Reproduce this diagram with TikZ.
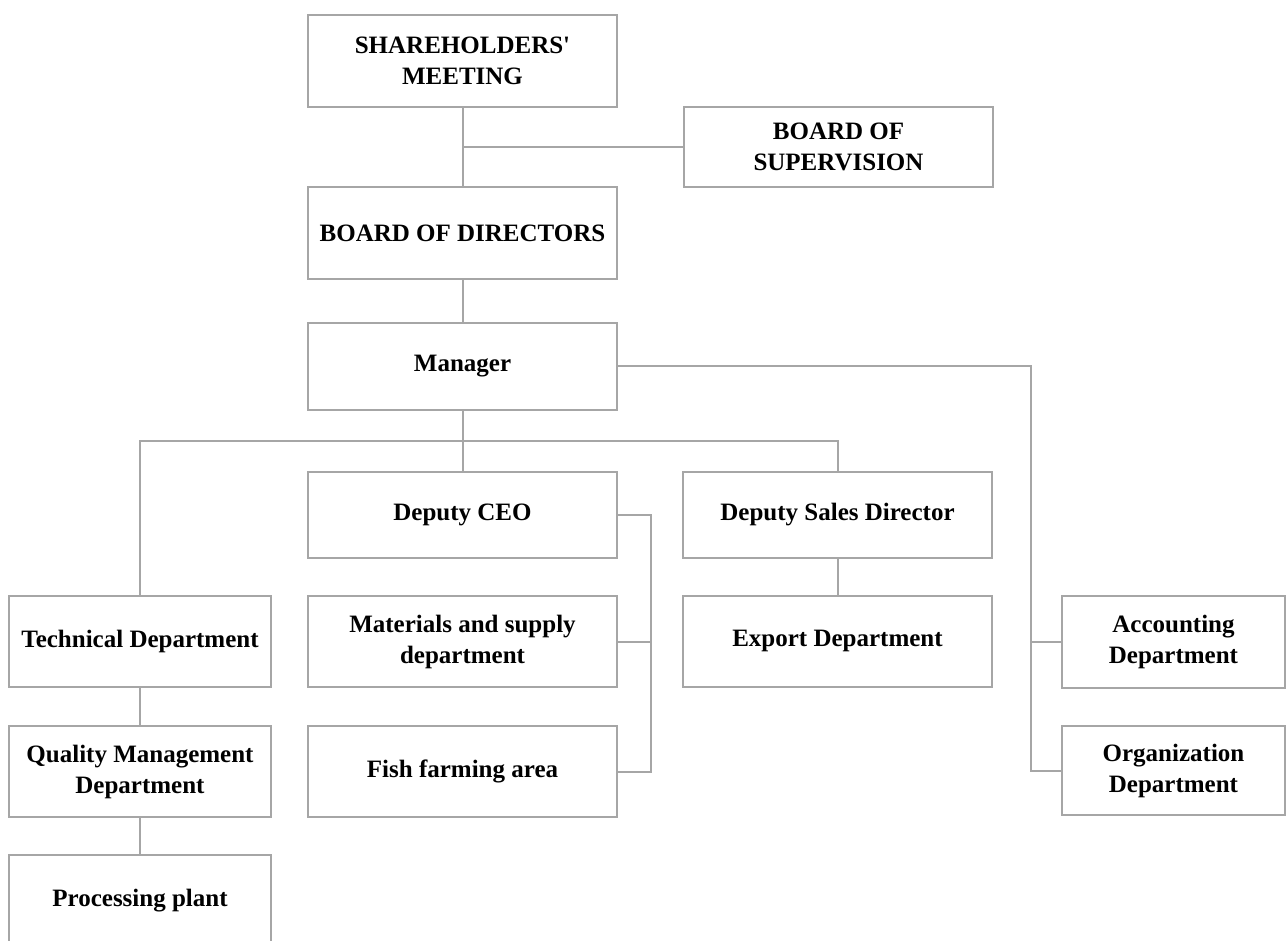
\documentclass[tikz,border=0pt]{standalone}
\usepackage{fontspec}
\setmainfont{Liberation Serif}
\definecolor{linegray}{HTML}{A6A6A6}
\begin{document}
\begin{tikzpicture}[x=1pt,y=-1pt,
  orgbox/.style={draw=linegray, line width=2pt, fill=white, inner sep=0pt,
    align=center, font=\fontsize{25}{31}\selectfont\bfseries},
  link/.style={draw=linegray, line width=2pt}]
\useasboundingbox (0,0) rectangle (1286,941);
% boxes
\node[orgbox, minimum width=309pt, minimum height=92pt] (sh)   at (462.5,61)   {SHAREHOLDERS\textquotesingle\\MEETING};
\node[orgbox, minimum width=309pt, minimum height=80pt] (sup)  at (838.5,147)  {BOARD OF\\SUPERVISION};
\node[orgbox, minimum width=309pt, minimum height=92pt] (bod)  at (462.5,233)  {BOARD OF DIRECTORS};
\node[orgbox, minimum width=309pt, minimum height=87pt] (mgr)  at (462.5,366.5) {Manager};
\node[orgbox, minimum width=309pt, minimum height=86pt] (dceo) at (462.5,515)  {Deputy CEO};
\node[orgbox, minimum width=309pt, minimum height=86pt] (dsd)  at (837.5,515)  {Deputy Sales Director};
\node[orgbox, minimum width=262pt, minimum height=91pt] (tech) at (140,641.5)  {Technical Department};
\node[orgbox, minimum width=309pt, minimum height=91pt] (mat)  at (462.5,641.5) {Materials and supply\\department};
\node[orgbox, minimum width=309pt, minimum height=91pt] (exp)  at (837.5,641)  {Export Department};
\node[orgbox, minimum width=223pt, minimum height=92pt] (acc)  at (1173.5,642) {Accounting\\Department};
\node[orgbox, minimum width=262pt, minimum height=91pt] (qm)   at (140,771.5)  {Quality Management\\Department};
\node[orgbox, minimum width=309pt, minimum height=91pt] (fish) at (462.5,771.5) {Fish farming area};
\node[orgbox, minimum width=223pt, minimum height=89pt] (org)  at (1173.5,770.5) {Organization\\Department};
\node[orgbox, minimum width=262pt, minimum height=92pt] (pp)   at (140,901)    {Processing plant};
% helper coordinates
\coordinate (bus) at (462.5,441);
\coordinate (spine) at (1031,0);
\coordinate (cspine) at (651,0);
% connectors
\draw[link] (sh.south) -- (bod.north);
\draw[link] (sup.west) -- (sup.west -| sh.south);
\draw[link] (bod.south) -- (mgr.north);
\draw[link] (mgr.south) -- (dceo.north);
\draw[link] (tech.north) |- (dsd.north |- bus) -- (dsd.north);
\draw[link] (mgr.east) -| (spine |- org.west) -- (org.west);
\draw[link] (acc.west) -- (acc.west -| spine);
\draw[link] (dceo.east) -| (cspine |- fish.east) -- (fish.east);
\draw[link] (mat.east) -- (mat.east -| cspine);
\draw[link] (dsd.south) -- (exp.north);
\draw[link] (tech.south) -- (qm.north);
\draw[link] (qm.south) -- (pp.north);
\end{tikzpicture}
\end{document}
